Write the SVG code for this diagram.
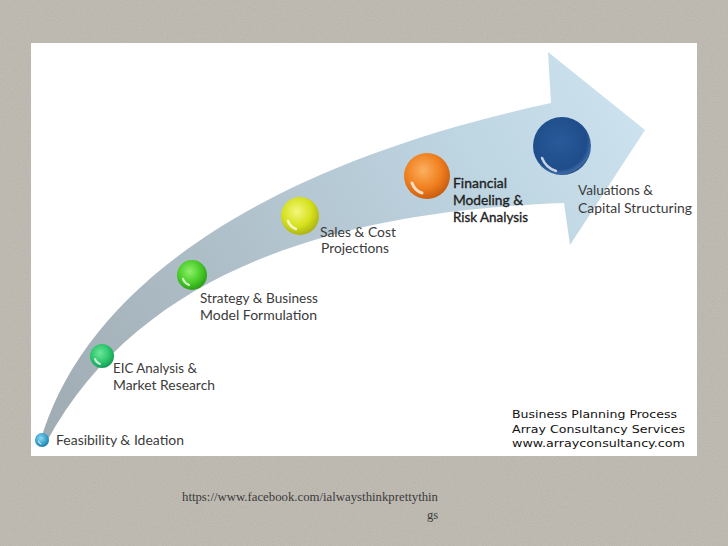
<svg xmlns="http://www.w3.org/2000/svg" width="728" height="546" viewBox="0 0 728 546">
  <defs>
    <style>
      .lbl { font-family: Lato, "Open Sans", "Liberation Sans", sans-serif; font-size: 14px; fill: #3b3b3b; }
      .lblb { font-family: Lato, "Open Sans", "Liberation Sans", sans-serif; font-size: 14px; fill: #222222; stroke: #222222; stroke-width: 0.35; }
      .co { font-family: "DejaVu Sans", "Liberation Sans", sans-serif; font-size: 11px; fill: #111; }
      .url { font-family: "Liberation Serif", "DejaVu Serif", serif; font-size: 12.5px; fill: #3a3a3a; }
      .glint { fill: none; stroke: #ffffff; stroke-linecap: round; opacity: 0.75; }
    </style>
    <filter id="noise" x="0" y="0" width="100%" height="100%">
      <feTurbulence type="fractalNoise" baseFrequency="0.8" numOctaves="2" seed="3" result="n"/>
      <feColorMatrix type="matrix" values="0 0 0 0 0.35  0 0 0 0 0.34  0 0 0 0 0.31  0 0 0 -1.2 0.75"/>
    </filter>
    <linearGradient id="arrowGrad" gradientUnits="userSpaceOnUse" x1="40" y1="440" x2="640" y2="110">
      <stop offset="0" stop-color="#a0abb2"/>
      <stop offset="0.4" stop-color="#b0c1cb"/>
      <stop offset="0.75" stop-color="#bed5e2"/>
      <stop offset="1" stop-color="#cce2ee"/>
    </linearGradient>
    <radialGradient id="gTeal" cx="0.42" cy="0.38" r="0.65">
      <stop offset="0" stop-color="#8fd8f0"/>
      <stop offset="0.6" stop-color="#3aa4cf"/>
      <stop offset="1" stop-color="#1c7aa2"/>
    </radialGradient>
    <radialGradient id="gEic" cx="0.42" cy="0.38" r="0.65">
      <stop offset="0" stop-color="#6de79c"/>
      <stop offset="0.6" stop-color="#2cc56c"/>
      <stop offset="1" stop-color="#16955a"/>
    </radialGradient>
    <radialGradient id="gStrat" cx="0.42" cy="0.38" r="0.65">
      <stop offset="0" stop-color="#8ff06a"/>
      <stop offset="0.6" stop-color="#47cb28"/>
      <stop offset="1" stop-color="#2a9a16"/>
    </radialGradient>
    <radialGradient id="gSales" cx="0.42" cy="0.38" r="0.65">
      <stop offset="0" stop-color="#f3f77c"/>
      <stop offset="0.6" stop-color="#d5e11c"/>
      <stop offset="1" stop-color="#a9b012"/>
    </radialGradient>
    <radialGradient id="gFin" cx="0.42" cy="0.38" r="0.65">
      <stop offset="0" stop-color="#fbb060"/>
      <stop offset="0.6" stop-color="#f07f1e"/>
      <stop offset="1" stop-color="#c65a10"/>
    </radialGradient>
    <radialGradient id="gVal" cx="0.45" cy="0.42" r="0.6">
      <stop offset="0" stop-color="#2a5a9a"/>
      <stop offset="0.8" stop-color="#1f4d8b"/>
      <stop offset="0.93" stop-color="#3d68a5"/>
      <stop offset="1" stop-color="#183c70"/>
    </radialGradient>
  </defs>

  <!-- background -->
  <rect x="0" y="0" width="728" height="546" fill="#bfbbb3"/>
  <rect x="0" y="0" width="728" height="546" filter="url(#noise)" opacity="0.45"/>

  <!-- white panel -->
  <rect x="31" y="43" width="666" height="413" fill="#ffffff"/>

  <!-- big curved arrow -->
  <g id="connectors">
    <path id="process-arrow" d="M 40,443 C 80,300 240,170 551,103 L 548,52 L 645,130 L 570,245 L 564,203 C 380,210 150,250 46,443 Z" fill="url(#arrowGrad)"/>
  </g>

  <g id="node-feasibility">
    <circle cx="42" cy="440" r="7" fill="url(#gTeal)"/>
    <path class="glint" d="M 38.5,441 A 4,4 0 0 0 41,444" stroke-width="1.2"/>
    <text class="lbl" x="56" y="445" textLength="128" lengthAdjust="spacingAndGlyphs">Feasibility &amp; Ideation</text>
  </g>

  <g id="node-eic">
    <circle cx="102" cy="356" r="12" fill="url(#gEic)"/>
    <path class="glint" d="M 95,359 A 8,8 0 0 0 100,364" stroke-width="2"/>
    <text class="lbl" x="113" y="373" textLength="84" lengthAdjust="spacingAndGlyphs">EIC Analysis &amp;</text>
    <text class="lbl" x="113" y="390" textLength="102" lengthAdjust="spacingAndGlyphs">Market Research</text>
  </g>

  <g id="node-strategy">
    <circle cx="192" cy="275" r="15" fill="url(#gStrat)"/>
    <path class="glint" d="M 183,279 A 10,10 0 0 0 189,285" stroke-width="2.2"/>
    <text class="lbl" x="200" y="303" textLength="118" lengthAdjust="spacingAndGlyphs">Strategy &amp; Business</text>
    <text class="lbl" x="200" y="320" textLength="117" lengthAdjust="spacingAndGlyphs">Model Formulation</text>
  </g>

  <g id="node-sales">
    <circle cx="300" cy="216" r="19" fill="url(#gSales)"/>
    <path class="glint" d="M 288,221 A 13,13 0 0 0 296,229" stroke-width="2.5"/>
    <text class="lbl" x="320" y="237" textLength="76" lengthAdjust="spacingAndGlyphs">Sales &amp; Cost</text>
    <text class="lbl" x="321" y="253" textLength="68" lengthAdjust="spacingAndGlyphs">Projections</text>
  </g>

  <g id="node-financial">
    <circle cx="427" cy="176" r="23" fill="url(#gFin)"/>
    <path class="glint" d="M 412,183 A 16,16 0 0 0 422,193" stroke-width="3"/>
    <text class="lblb" x="453" y="188" textLength="54" lengthAdjust="spacingAndGlyphs">Financial</text>
    <text class="lblb" x="453" y="205" textLength="70" lengthAdjust="spacingAndGlyphs">Modeling &amp;</text>
    <text class="lblb" x="453" y="222" textLength="75" lengthAdjust="spacingAndGlyphs">Risk Analysis</text>
  </g>

  <g id="node-valuations">
    <circle cx="562" cy="146" r="29" fill="url(#gVal)"/>
    <path class="glint" d="M 542,158 A 22,22 0 0 0 556,171" stroke-width="2.5"/>
    <text class="lbl" x="578" y="195" textLength="75" lengthAdjust="spacingAndGlyphs">Valuations &amp;</text>
    <text class="lbl" x="578" y="213" textLength="114" lengthAdjust="spacingAndGlyphs">Capital Structuring</text>
  </g>

  <g id="caption">
    <text class="co" x="512" y="418" textLength="165" lengthAdjust="spacingAndGlyphs">Business Planning Process</text>
    <text class="co" x="512" y="433" textLength="173" lengthAdjust="spacingAndGlyphs">Array Consultancy Services</text>
    <text class="co" x="512" y="447" textLength="173" lengthAdjust="spacingAndGlyphs">www.arrayconsultancy.com</text>
  </g>

  <g id="source">
    <text class="url" x="182" y="501" textLength="256" lengthAdjust="spacingAndGlyphs">https://www.facebook.com/ialwaysthinkprettythin</text>
    <text class="url" x="438" y="519" text-anchor="end">gs</text>
  </g>
</svg>
